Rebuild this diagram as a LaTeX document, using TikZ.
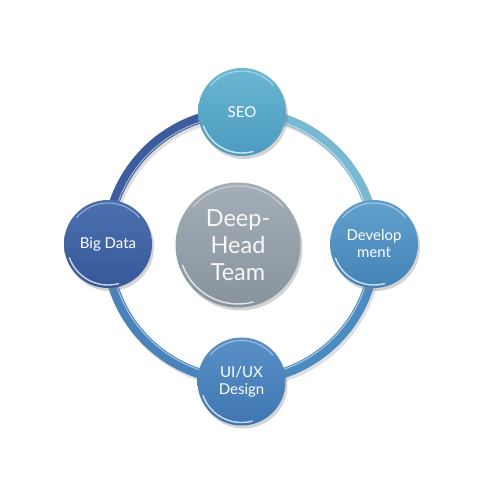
\documentclass[tikz,border=0pt]{standalone}
\usepackage{fontspec}
\setmainfont{Lato}
\usetikzlibrary{shadows}
\definecolor{ringA}{HTML}{78B8D2}
\definecolor{ringB}{HTML}{3D5C9D}
\definecolor{ringC}{HTML}{4A82BC}
\definecolor{ringD}{HTML}{4C8BBF}
\definecolor{seoTop}{HTML}{6AB6D2}
\definecolor{seoBot}{HTML}{4A9BC0}
\definecolor{bdTop}{HTML}{4C70AF}
\definecolor{bdBot}{HTML}{36589A}
\definecolor{devTop}{HTML}{62A0CC}
\definecolor{devBot}{HTML}{4383B8}
\definecolor{uxTop}{HTML}{5A90C6}
\definecolor{uxBot}{HTML}{3F76B2}
\definecolor{midTop}{HTML}{A4AEB7}
\definecolor{midBot}{HTML}{87939E}
\tikzset{
  bub/.style={circle, minimum size=88pt, inner sep=0pt, text=white,
    font=\fontsize{15}{17}\selectfont, align=center,
    drop shadow={shadow xshift=2pt, shadow yshift=-3pt, opacity=0.35}},
  ringseg/.style={line width=10pt},
  shine/.style={white, line width=1.4pt, opacity=0.75, line cap=round},
}
\begin{document}
\begin{tikzpicture}[x=1pt,y=1pt]
\useasboundingbox (0,0) rectangle (500,500);
\coordinate (rc) at (241,254);
% ring shadow
\draw[gray, opacity=0.25, line width=10pt] ([shift={(2,-3)}]rc) circle[radius=134];
% ring segments
\draw[ringseg, ringA] ([shift={(0:134)}]rc) arc[start angle=0, end angle=90, radius=134];
\draw[ringseg, ringB] ([shift={(90:134)}]rc) arc[start angle=90, end angle=180, radius=134];
\draw[ringseg, ringC] ([shift={(180:134)}]rc) arc[start angle=180, end angle=270, radius=134];
\draw[ringseg, ringD] ([shift={(270:134)}]rc) arc[start angle=270, end angle=360, radius=134];
\draw[white, opacity=0.55, line width=1pt] (rc) circle[radius=130.5];
% nodes
\node[bub, top color=seoTop, bottom color=seoBot] (seo) at (242,388) {SEO};
\node[bub, top color=bdTop, bottom color=bdBot] (bd) at (108,256) {Big Data};
\node[bub, top color=devTop, bottom color=devBot] (dev) at (374,256) {Develop\\ment};
\node[bub, top color=uxTop, bottom color=uxBot] (ux) at (241.5,118.5) {UI/UX\\Design};
\node[bub, minimum size=125pt, top color=midTop, bottom color=midBot,
  text=white!94!gray, font=\fontsize{23.5}{27}\selectfont] (mid) at (238,255) {Deep-\\Head\\Team};
% highlights
\foreach \n/\r in {seo/41, bd/41, dev/41, ux/41, mid/59}{
  \draw[shine] ([shift={(200:\r)}]\n.center) arc[start angle=200, end angle=285, radius=\r];
  \draw[white, opacity=0.45, line width=1pt] ([shift={(40:\r)}]\n.center) arc[start angle=40, end angle=140, radius=\r];
}
\end{tikzpicture}
\end{document}
